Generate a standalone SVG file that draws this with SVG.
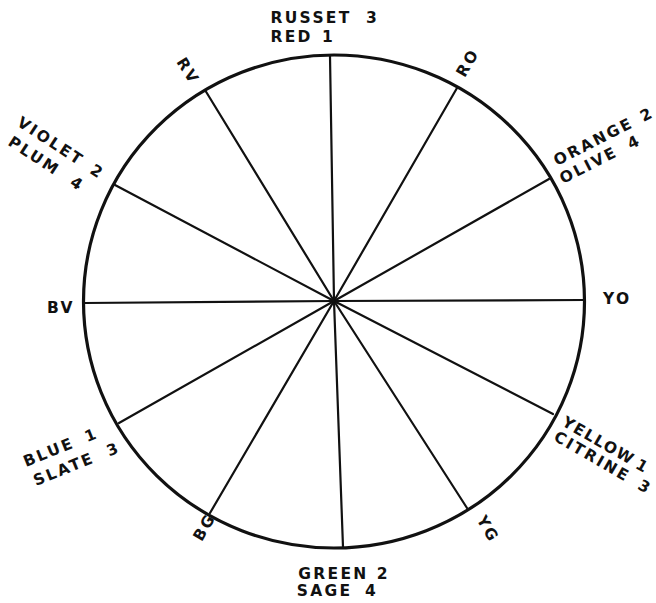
<svg xmlns="http://www.w3.org/2000/svg" width="656" height="603" viewBox="0 0 656 603">
<style>
.lbl{font-family:"DejaVu Sans","Liberation Sans",sans-serif;font-weight:bold;font-size:15.5px;letter-spacing:2.3px;fill:#111}
.spoke{stroke:#111;stroke-width:2.2;stroke-linecap:round}
.rim{fill:none;stroke:#111;stroke-width:3.2}
</style>
<rect width="656" height="603" fill="#fff"/>
<g id="connectors">
<line class="spoke" x1="334" y1="301" x2="330" y2="56"/>
<line class="spoke" x1="334" y1="301" x2="205" y2="90"/>
<line class="spoke" x1="334" y1="301" x2="457" y2="88"/>
<line class="spoke" x1="334" y1="301" x2="549" y2="179"/>
<line class="spoke" x1="334" y1="301" x2="584" y2="300"/>
<line class="spoke" x1="334" y1="301" x2="553" y2="414"/>
<line class="spoke" x1="334" y1="301" x2="467" y2="508"/>
<line class="spoke" x1="334" y1="301" x2="343" y2="547"/>
<line class="spoke" x1="334" y1="301" x2="210" y2="513"/>
<line class="spoke" x1="334" y1="301" x2="119" y2="423"/>
<line class="spoke" x1="334" y1="301" x2="84" y2="303"/>
<line class="spoke" x1="334" y1="301" x2="115" y2="185"/>
</g>
<g id="wheel">
<ellipse class="rim" cx="334" cy="301.5" rx="250.5" ry="246.5"/>
</g>
<g id="label-red">
<text class="lbl" x="270.5" y="23">RUSSET<tspan x="366">3</tspan></text>
<text class="lbl" x="270.5" y="42">RED<tspan x="322">1</tspan></text>
</g>
<g id="label-rv"><text class="lbl" transform="translate(175.9,61.8) rotate(58)">RV</text></g>
<g id="label-ro"><text class="lbl" transform="translate(464.8,78.2) rotate(-60)">RO</text></g>
<g id="label-orange">
<text class="lbl" transform="translate(557,166) rotate(-27)">ORANGE<tspan x="97">2</tspan></text>
<text class="lbl" transform="translate(563,184) rotate(-27)">OLIVE<tspan x="76">4</tspan></text>
</g>
<g id="label-yo"><text class="lbl" x="603" y="304">YO</text></g>
<g id="label-yellow">
<text class="lbl" style="letter-spacing:1.6px" transform="translate(561,425) rotate(30)">YELLOW<tspan x="85">1</tspan></text>
<text class="lbl" transform="translate(552.7,439.8) rotate(30)">CITRINE<tspan x="97">3</tspan></text>
</g>
<g id="label-yg"><text class="lbl" transform="translate(476.2,519.4) rotate(60)">YG</text></g>
<g id="label-green">
<text class="lbl" x="298.3" y="579">GREEN<tspan x="376.7">2</tspan></text>
<text class="lbl" x="296.7" y="596">SAGE<tspan x="365">4</tspan></text>
</g>
<g id="label-bg"><text class="lbl" transform="translate(201.8,542.2) rotate(-60)">BG</text></g>
<g id="label-blue">
<text class="lbl" transform="translate(26,467) rotate(-22)">BLUE<tspan x="66">1</tspan></text>
<text class="lbl" transform="translate(36,486) rotate(-22)">SLATE<tspan x="79">3</tspan></text>
</g>
<g id="label-bv"><text class="lbl" x="47" y="313">BV</text></g>
<g id="label-violet">
<text class="lbl" transform="translate(16,125) rotate(33)">VIOLET<tspan x="87">2</tspan></text>
<text class="lbl" transform="translate(7,144.5) rotate(33)">PLUM<tspan x="74">4</tspan></text>
</g>
</svg>
